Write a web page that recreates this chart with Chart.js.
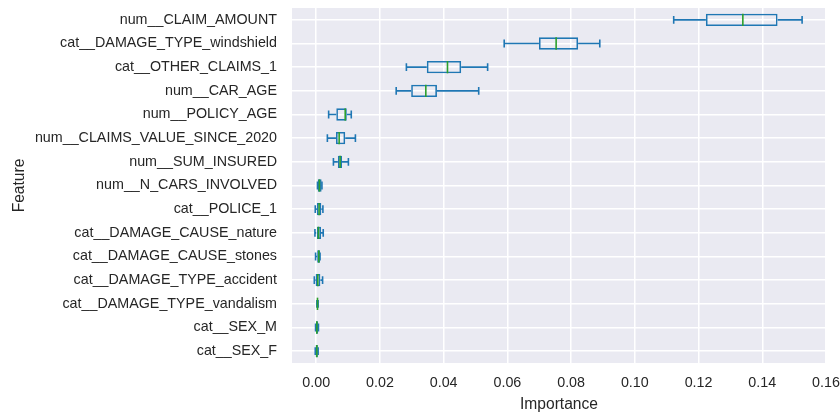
<!DOCTYPE html>
<html>
<head>
<meta charset="utf-8">
<script src="https://cdn.jsdelivr.net/npm/chart.js@4.4.1/dist/chart.umd.min.js"></script>
<style>
  html, body { margin: 0; padding: 0; background: #ffffff; }
  #wrap { width: 840px; height: 414px; }
</style>
</head>
<body>
<div id="wrap"><canvas id="chart" width="840" height="414"></canvas></div>
<script>
// Permutation importance per feature: whisker ends, quartiles and median
const features = [
  'num__CLAIM_AMOUNT',
  'cat__DAMAGE_TYPE_windshield',
  'cat__OTHER_CLAIMS_1',
  'num__CAR_AGE',
  'num__POLICY_AGE',
  'num__CLAIMS_VALUE_SINCE_2020',
  'num__SUM_INSURED',
  'num__N_CARS_INVOLVED',
  'cat__POLICE_1',
  'cat__DAMAGE_CAUSE_nature',
  'cat__DAMAGE_CAUSE_stones',
  'cat__DAMAGE_TYPE_accident',
  'cat__DAMAGE_TYPE_vandalism',
  'cat__SEX_M',
  'cat__SEX_F'
];
const whiskerLow  = [0.1122, 0.0590, 0.0283, 0.0251, 0.0039, 0.0035, 0.0054, 0.0004, -0.0003, -0.0004, -0.0002, -0.0006, 0.0002, -0.0002, -0.0003];
const q1          = [0.1223, 0.0699, 0.0347, 0.0298, 0.0063, 0.0062, 0.0068, 0.0005,  0.0002,  0.0000,  0.0003, -0.0002, 0.0003, -0.0001, -0.0002];
const median      = [0.1339, 0.0753, 0.0412, 0.0344, 0.0091, 0.0072, 0.0075, 0.0010,  0.0009,  0.0007,  0.0008,  0.0005, 0.0004,  0.0002,  0.0002];
const q3          = [0.1448, 0.0822, 0.0455, 0.0379, 0.0096, 0.0091, 0.0081, 0.0017,  0.0016,  0.0015,  0.0012,  0.0013, 0.0005,  0.0006,  0.0005];
const whiskerHigh = [0.1525, 0.0890, 0.0538, 0.0510, 0.0110, 0.0123, 0.0101, 0.0018,  0.0021,  0.0022,  0.0012,  0.0020, 0.0006,  0.0007,  0.0006];
const xTicks = [0.00, 0.02, 0.04, 0.06, 0.08, 0.10, 0.12, 0.14, 0.16];

const BOX_BLUE = '#1f77b4';
const MEDIAN_GREEN = '#2ca02c';
const TEXT = '#262626';
const FONT = "'Liberation Sans', Arial, sans-serif";

// Panel background plus whiskers, caps and medians on top of the boxes
const boxPlot = {
  id: 'boxPlot',
  beforeDraw(chart) {
    const { ctx, chartArea: a } = chart;
    ctx.save();
    ctx.fillStyle = '#eaeaf2';
    ctx.fillRect(a.left, a.top, a.right - a.left, a.bottom - a.top);
    ctx.restore();
  },
  afterDatasetsDraw(chart) {
    const { ctx, chartArea: a, scales: { x, y } } = chart;
    const meta = chart.getDatasetMeta(0);
    ctx.save();
    ctx.beginPath();
    ctx.rect(a.left, a.top, a.right - a.left, a.bottom - a.top);
    ctx.clip();
    ctx.lineWidth = 1.6;
    features.forEach((f, i) => {
      const yc = y.getPixelForValue(i);
      const half = meta.data[i].height / 2;
      const capHalf = half / 2;
      const xl = x.getPixelForValue(whiskerLow[i]);
      const x1 = x.getPixelForValue(q1[i]);
      const x3 = x.getPixelForValue(q3[i]);
      const xh = x.getPixelForValue(whiskerHigh[i]);
      const xm = x.getPixelForValue(median[i]);
      ctx.strokeStyle = BOX_BLUE;
      ctx.lineCap = 'butt';
      ctx.beginPath();
      ctx.moveTo(xl, yc); ctx.lineTo(x1, yc);
      ctx.moveTo(x3, yc); ctx.lineTo(xh, yc);
      ctx.stroke();
      ctx.lineCap = 'square';
      ctx.beginPath();
      ctx.moveTo(xl, yc - capHalf); ctx.lineTo(xl, yc + capHalf);
      ctx.moveTo(xh, yc - capHalf); ctx.lineTo(xh, yc + capHalf);
      ctx.stroke();
      ctx.lineCap = 'butt';
      ctx.strokeStyle = MEDIAN_GREEN;
      ctx.beginPath();
      ctx.moveTo(xm, yc - half); ctx.lineTo(xm, yc + half);
      ctx.stroke();
    });
    ctx.restore();
  }
};

// Axis label overhang is absorbed by the fixed layout padding
function noOverhang(scale) {
  scale.paddingTop = 0;
  scale.paddingBottom = 0;
  scale.paddingLeft = 0;
  scale.paddingRight = 0;
}

new Chart(document.getElementById('chart'), {
  type: 'bar',
  data: {
    labels: features,
    datasets: [{
      data: features.map((f, i) => [q1[i], q3[i]]),
      backgroundColor: 'rgba(0,0,0,0)',
      borderColor: BOX_BLUE,
      borderWidth: 1.6,
      borderSkipped: false,
      categoryPercentage: 1.0,
      barPercentage: 0.52
    }]
  },
  options: {
    indexAxis: 'y',
    responsive: false,
    animation: false,
    layout: { padding: { left: 0, right: 14, top: 8, bottom: 0 } },
    plugins: { legend: { display: false }, tooltip: { enabled: false } },
    scales: {
      x: {
        type: 'linear',
        min: -0.0076,
        max: 0.16,
        afterBuildTicks(scale) {
          scale.ticks = xTicks.map(v => ({ value: v }));
        },
        afterFit(scale) { scale.height = 51; noOverhang(scale); },
        grid: { color: '#ffffff', lineWidth: 1.5, drawTicks: false },
        border: { display: false },
        ticks: {
          padding: 11,
          color: TEXT,
          font: { family: FONT, size: 14.3 },
          callback: v => Number(v).toFixed(2)
        },
        title: {
          display: true,
          text: 'Importance',
          color: TEXT,
          font: { family: FONT, size: 15.6 },
          padding: { top: 0, bottom: 0 }
        }
      },
      y: {
        type: 'category',
        offset: true,
        afterFit(scale) { scale.width = 292; noOverhang(scale); },
        grid: { color: '#ffffff', lineWidth: 1.5, drawTicks: false, offset: false },
        border: { display: false },
        ticks: {
          padding: 15,
          color: TEXT,
          autoSkip: false,
          font: { family: FONT, size: 14.3 }
        },
        title: {
          display: true,
          text: 'Feature',
          color: TEXT,
          font: { family: FONT, size: 15.6 },
          padding: { top: 10, bottom: 0 }
        }
      }
    }
  },
  plugins: [boxPlot]
});
</script>
</body>
</html>
